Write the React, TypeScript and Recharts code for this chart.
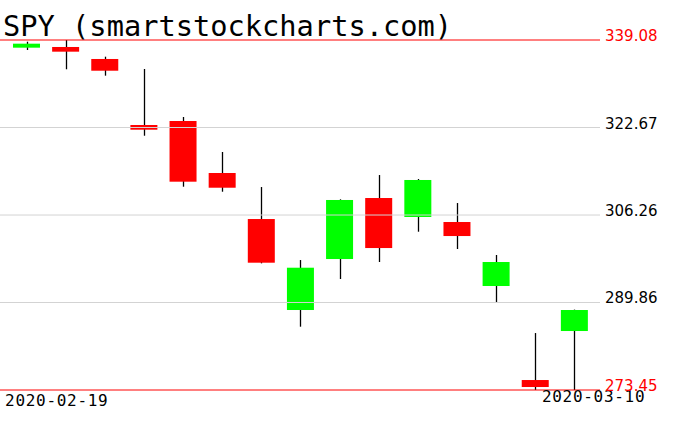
import { ComposedChart, Bar, XAxis, YAxis, ReferenceLine } from "recharts"

const dates = [
    "2020-02-19", "2020-02-20", "2020-02-21", "2020-02-24", "2020-02-25",
    "2020-02-26", "2020-02-27", "2020-02-28", "2020-03-02", "2020-03-03",
    "2020-03-04", "2020-03-05", "2020-03-06", "2020-03-09", "2020-03-10",
]
const opens = [337.64, 337.77, 335.52, 323.14, 323.89, 314.14, 305.51, 288.45, 298.01, 309.45, 305.89, 304.95, 292.95, 275.32, 284.51]
const highs = [338.76, 339.08, 335.95, 333.64, 324.64, 318.08, 311.51, 297.82, 309.2, 313.76, 313.01, 308.51, 298.76, 284.13, 288.52]
const lows = [337.2, 333.59, 332.39, 321.13, 311.57, 310.63, 297.2, 285.32, 294.26, 297.45, 303.13, 299.89, 289.95, 273.45, 273.45]
const closes = [338.39, 336.89, 333.32, 322.26, 312.51, 311.38, 297.32, 296.38, 309.08, 300.07, 312.83, 302.32, 297.45, 274.01, 288.45]
const priceTicks = [273.45, 289.86, 306.26, 322.67, 339.08]
const dateTicks = [dates[0], dates[dates.length - 1]]

const data = dates.map((date, i) => ({
    date,
    open: opens[i],
    high: highs[i],
    low: lows[i],
    close: closes[i],
    range: [lows[i], highs[i]],
}))

function Candle(props: any) {
    const { x, y, width, height, payload } = props
    const { open, close, high, low } = payload
    const top = Math.min(y, y + height)
    const h = Math.abs(height)
    const ratio = high > low ? h / (high - low) : 0
    const bodyTop = top + (high - Math.max(open, close)) * ratio
    const bodyH = Math.max(Math.abs(close - open) * ratio, 1)
    const cx = Math.round(x + width / 2) + 0.5
    return (
        <g>
            <line x1={cx} x2={cx} y1={top} y2={top + h} stroke="#000" strokeWidth={1.3} />
            <rect x={x} y={bodyTop} width={width} height={bodyH} fill={close >= open ? "#00ff00" : "#ff0000"} />
        </g>
    )
}

function PriceTick(props: any) {
    const { x, y, payload } = props
    const edge = payload.value === priceTicks[0] || payload.value === priceTicks[priceTicks.length - 1]
    return (
        <text x={x} y={y} dy={1} textAnchor="start" fill={edge ? "#ff0000" : "#000"}
            fontSize={15} fontFamily="DejaVu Sans">
            {payload.value.toFixed(2)}
        </text>
    )
}

function DateTick(props: any) {
    const { x, y, payload } = props
    const first = payload.value === dates[0]
    return (
        <text x={x + (first ? -21.5 : -32.5)} y={y + (first ? 16 : 11.5)} textAnchor="start" fill="#000"
            fontSize={16} fontFamily="DejaVu Sans Mono" letterSpacing={0.7}>
            {payload.value}
        </text>
    )
}

export default function App() {
    return (
        <div style={{ position: "absolute", left: 0, top: 0, width: 676, height: 431, background: "#fff" }}>
            <div style={{
                position: "absolute", left: 3, top: 12, fontFamily: "DejaVu Sans Mono", fontSize: 28.7,
                lineHeight: 1, color: "#000", whiteSpace: "nowrap", zIndex: 1,
            }}>
                SPY (smartstockcharts.com)
            </div>
            <ComposedChart width={676} height={431} data={data} margin={{ top: 40, right: 0, bottom: 0, left: 0 }}>
                <XAxis dataKey="date" ticks={dateTicks} interval={0} height={41} axisLine={false} tickLine={false}
                    tickSize={0} tickMargin={0} padding={{ left: 7, right: 6 }} tick={<DateTick />} />
                <YAxis orientation="right" width={76} type="number" domain={[273.45, 339.08]} ticks={priceTicks}
                    axisLine={false} tickLine={false} tickSize={0} tickMargin={5} tick={<PriceTick />} />
                <Bar dataKey="range" barSize={27} shape={<Candle />} isAnimationActive={false} />
                {priceTicks.slice(1, -1).map(v => (
                    <ReferenceLine key={v} y={v} stroke="#d3d3d3" strokeWidth={1} />
                ))}
                <ReferenceLine y={priceTicks[0]} stroke="#ff0000" strokeWidth={1} />
                <ReferenceLine y={priceTicks[priceTicks.length - 1]} stroke="#ff0000" strokeWidth={1} />
            </ComposedChart>
        </div>
    )
}
